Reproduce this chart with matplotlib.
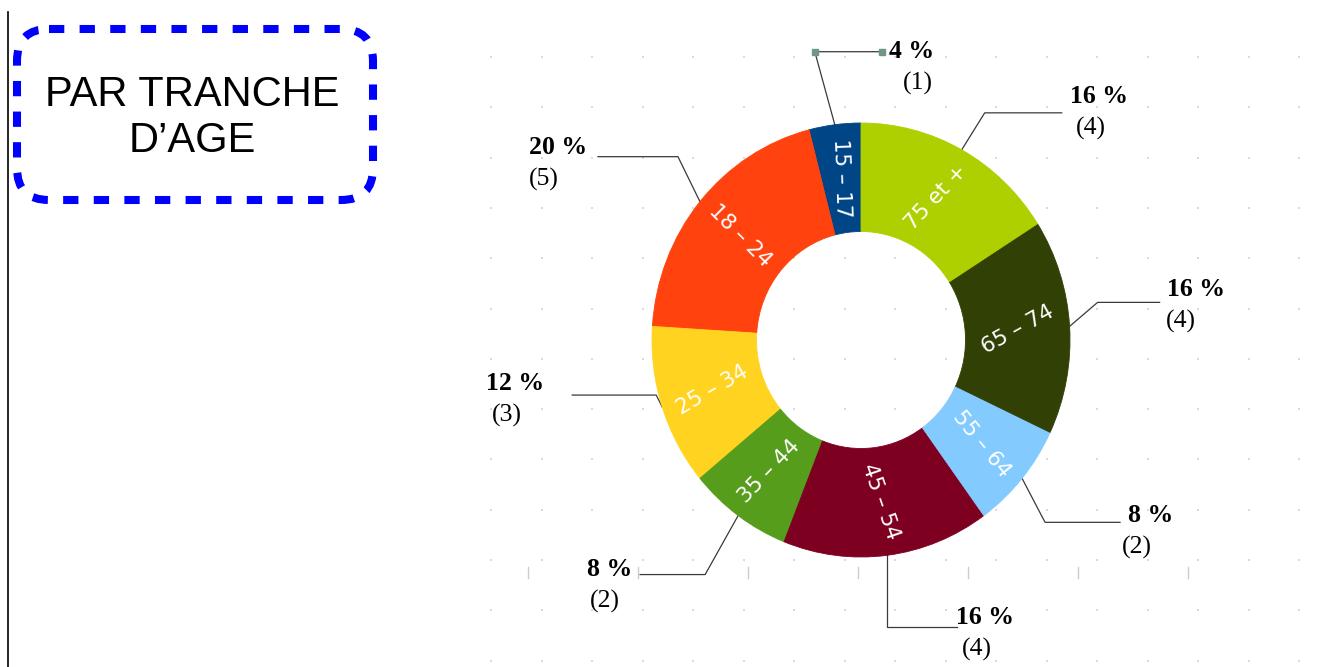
import numpy as np
import matplotlib.pyplot as plt
from matplotlib.patches import FancyBboxPatch


ages = ["15 – 17", "18 – 24", "25 – 34", "35 – 44", "45 – 54", "55 – 64", "65 – 74", "75 et +"]
percents = [4, 20, 12, 8, 16, 8, 16, 16]
counts = [1, 5, 3, 2, 4, 2, 4, 4]
colors = ["#004586", "#ff420e", "#ffd320", "#579d1c", "#7e0021", "#83caff", "#314004", "#aecf00"]

# leader layout in pixels: elbow offset from wedge edge, horizontal arm, label offset
elbow = [(-20, -73), (-22, -45), (-6, -12), (-33, 59), (0, 72), (23, 44), (28, -24), (23, -37)]
arm = [67, -80, -84, -65, 70, 75, 62, 77]
lab_off = [(30, 0), (-40, -9), (-57, -12), (-31, -5), (28, -10), (31, -7), (36, -13), (37, -16)]
par_dx = [6, -14, -8, -4, -8, -14, -15, -8]
inner_rot = [-88, -45, 30, 46, -71, -51, 29, 47]

W, H = 1328, 667
cx, cy, rx, ry = 861, 340, 209, 217

fig = plt.figure(figsize=(W / 100, H / 100), dpi=100)
ax = fig.add_axes([0, 0, 1, 1])
ax.set_xlim(0, W)
ax.set_ylim(H, 0)
ax.axis("off")

# faint dotted background grid
gx, gy = np.meshgrid(np.arange(491, 1325, 50.5), np.arange(57, 667, 50.3))
ax.scatter(gx.ravel(), gy.ravel(), s=3, c="#dadada", marker="s", lw=0)
for x in np.arange(528, 1200, 110):
    ax.plot([x, x], [567, 578], color="#cccccc", lw=1)

ax.plot([8, 8], [12, H], color="black", lw=1.2)
box = FancyBboxPatch((17, 29), 356, 171, boxstyle="round,pad=0,rounding_size=32",
                     fill=False, ec="#0000ff", lw=5.8, ls=(0, (1.9, 1.9)))
ax.add_patch(box)
ax.text(192, 118, "PAR TRANCHE\nD’AGE", ha="center", va="center",
        fontsize=30, family="Liberation Sans", linespacing=1.2)

# donut
pax = fig.add_axes([(cx - rx) / W, (H - cy - ry) / H, 2 * rx / W, 2 * ry / H])
wedges, _ = pax.pie(percents, colors=colors, startangle=90, counterclock=True,
                    radius=1, wedgeprops=dict(width=0.5, linewidth=0.6))
for w, c in zip(wedges, colors):
    w.set_edgecolor(c)
pax.set_aspect("auto")
pax.set_xlim(-1, 1)
pax.set_ylim(-1, 1)
pax.axis("off")
pax.patch.set_visible(False)

for i, w in enumerate(wedges):
    a = np.deg2rad((w.theta1 + w.theta2) / 2)
    pax.text(0.75 * np.cos(a), 0.75 * np.sin(a), ages[i], rotation=inner_rot[i],
             rotation_mode="anchor", ha="center", va="center",
             color="white", fontsize=15.5, family="DejaVu Sans")

    sx = cx + rx * np.cos(a)
    sy = cy - ry * np.sin(a)
    bx, by = sx + elbow[i][0], sy + elbow[i][1]
    ex = bx + arm[i]
    ax.plot([sx, bx, ex], [sy, by, by], color="#3a3a3a", lw=0.9)
    if i == 0:
        ax.plot([bx, ex], [by, by], ls="none", marker="s", ms=5, color="#6e9784")
    tx, ty = ex + lab_off[i][0], by + lab_off[i][1]
    ax.text(tx, ty, f"{percents[i]} %", ha="center", va="center",
            fontsize=18.5, weight="bold", family="Liberation Serif")
    ax.text(tx + par_dx[i], ty + 32, f"({counts[i]})", ha="center", va="center",
            fontsize=18.5, family="Liberation Serif")

fig.savefig("out.png", dpi=100)
